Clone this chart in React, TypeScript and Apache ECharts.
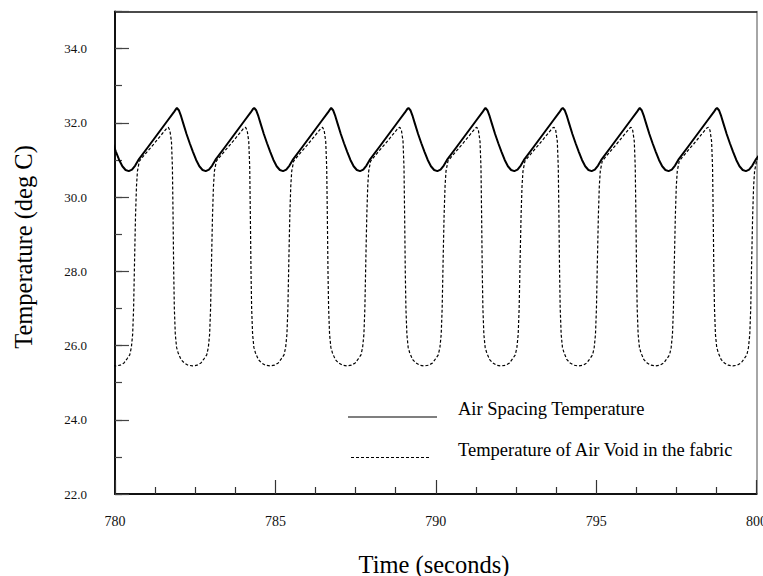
import React, { useEffect, useRef } from "react";
import * as echarts from "echarts";

// Times (s) of each peak of the air spacing temperature
const solidPeakTimes = [779.53, 781.93, 784.34, 786.74, 789.15, 791.55, 793.96, 796.36, 798.77];
// Shape of one cycle of the air spacing temperature (time after the peak, deg C)
const solidOffsets = [0, 0.06, 0.13, 0.2, 0.3, 0.4, 0.5, 0.6, 0.7, 0.8, 0.9, 1.0, 1.1, 1.2, 1.5, 1.8, 2.1, 2.3, 2.37];
const solidValues = [32.4, 32.34, 32.18, 31.98, 31.7, 31.45, 31.22, 31.0, 30.83, 30.73, 30.7, 30.74, 30.85, 31.0, 31.35, 31.7, 32.05, 32.28, 32.37];

// Times (s) of each peak of the air void temperature
const dashedPeakTimes = [779.26, 781.66, 784.07, 786.47, 788.88, 791.28, 793.69, 796.09, 798.5];
// Shape of one cycle of the air void temperature (time after the peak, deg C)
const dashedOffsets = [0, 0.05, 0.1, 0.13, 0.15, 0.17, 0.19, 0.22, 0.26, 0.31, 0.4, 0.5, 0.62, 0.76, 0.9, 1.02, 1.12, 1.2, 1.25, 1.29, 1.32, 1.35, 1.38, 1.41, 1.44, 1.5, 1.7, 1.95, 2.15, 2.3, 2.36];
const dashedValues = [31.88, 31.8, 31.5, 30.8, 29.5, 28.0, 27.0, 26.3, 25.95, 25.8, 25.62, 25.53, 25.47, 25.45, 25.47, 25.53, 25.65, 25.75, 25.95, 26.3, 27.0, 28.3, 29.5, 30.3, 30.7, 30.97, 31.18, 31.43, 31.64, 31.8, 31.86];

const seriesNames = ["Air Spacing Temperature", "Temperature of Air Void in the fabric"];
const xTitle = "Time (seconds)";
const yTitle = "Temperature (deg C)";

const xMin = 780, xMax = 800, xStep = 5;
const yMin = 22, yMax = 35, yStep = 2;

function buildSeries(peaks: number[], offsets: number[], values: number[]) {
  const out: number[][] = [];
  peaks.forEach((p) => {
    offsets.forEach((o, i) => {
      out.push([+(p + o).toFixed(3), values[i]]);
    });
  });
  return out;
}

const FONT = "Liberation Serif";

export default function App() {
  const ref = useRef<HTMLDivElement>(null);
  useEffect(() => {
    if (!ref.current) return;
    const chart = echarts.init(ref.current, undefined, { renderer: "svg" });
    const solid = buildSeries(solidPeakTimes, solidOffsets, solidValues);
    const dashed = buildSeries(dashedPeakTimes, dashedOffsets, dashedValues);
    chart.setOption({
      animation: false,
      backgroundColor: "#fff",
      textStyle: { fontFamily: FONT },
      grid: { left: 115, right: 6.5, top: 11.5, bottom: 82, containLabel: false, outerBoundsMode: "none" },
      xAxis: [
        {
          type: "value",
          min: xMin,
          max: xMax,
          interval: xStep,
          axisLine: { show: true, onZero: false, lineStyle: { color: "#111", width: 2 } },
          axisTick: { show: true, inside: true, length: 14, lineStyle: { color: "#333", width: 1.2 } },
          minorTick: { show: true, splitNumber: 4, length: 7, lineStyle: { color: "#333", width: 1.2 } },
          axisLabel: { fontFamily: FONT, fontSize: 14, color: "#111", margin: 20, hideOverlap: false },
          splitLine: { show: false },
        },
        {
          type: "value",
          position: "top",
          min: xMin,
          max: xMax,
          axisLine: { show: true, onZero: false, lineStyle: { color: "#111", width: 1.5 } },
          axisTick: { show: false },
          axisLabel: { show: false },
          splitLine: { show: false },
        },
      ],
      yAxis: [
        {
          type: "value",
          min: yMin,
          max: yMax,
          interval: yStep,
          position: "left",
          axisLine: { show: true, onZero: false, lineStyle: { color: "#111", width: 2 } },
          axisTick: { show: true, inside: true, length: 14, lineStyle: { color: "#444", width: 1.2 } },
          axisLabel: {
            fontFamily: FONT,
            fontSize: 13,
            color: "#111",
            margin: 28,
            formatter: (v: number) => (v > 34.5 ? "" : v.toFixed(1)),
          },
          splitLine: { show: false },
        },
        {
          type: "value",
          min: yMin,
          max: yMax,
          interval: 1,
          position: "left",
          offset: 0,
          axisLine: { show: false },
          axisTick: { show: true, inside: true, length: 7, lineStyle: { color: "#444", width: 1.2 } },
          axisLabel: { show: false },
          splitLine: { show: false },
        },
        {
          type: "value",
          min: yMin,
          max: yMax,
          position: "right",
          offset: 0,
          axisLine: { show: true, onZero: false, lineStyle: { color: "#888", width: 1.5 } },
          axisTick: { show: false },
          axisLabel: { show: false },
          splitLine: { show: false },
        },
      ],
      series: [
        {
          name: seriesNames[0],
          type: "line",
          xAxisIndex: 0,
          yAxisIndex: 0,
          data: solid,
          showSymbol: false,
          symbol: "none",
          clip: true,
          lineStyle: { color: "#000", width: 2 },
        },
        {
          name: seriesNames[1],
          type: "line",
          xAxisIndex: 0,
          yAxisIndex: 0,
          data: dashed,
          showSymbol: false,
          symbol: "none",
          clip: true,
          lineStyle: { color: "#000", width: 1.2, type: [3, 2] },
        },
      ],
      graphic: [
        {
          type: "text",
          x: 434,
          y: 564,
          style: { text: xTitle, fontFamily: FONT, fontSize: 24.5, fill: "#000", textAlign: "center", textVerticalAlign: "middle" },
        },
        {
          type: "text",
          x: 23,
          y: 247,
          rotation: Math.PI / 2,
          style: { text: yTitle, fontFamily: FONT, fontSize: 24.5, fill: "#000", textAlign: "center", textVerticalAlign: "middle" },
        },
        {
          type: "line",
          shape: { x1: 348, y1: 417, x2: 437, y2: 417 },
          style: { stroke: "#000", lineWidth: 1.2 },
        },
        {
          type: "text",
          x: 458,
          y: 409,
          style: { text: seriesNames[0], fontFamily: FONT, fontSize: 18.5, fill: "#000", textAlign: "left", textVerticalAlign: "middle" },
        },
        {
          type: "line",
          shape: { x1: 351, y1: 457.5, x2: 430, y2: 457.5 },
          style: { stroke: "#000", lineWidth: 1, lineDash: [3, 2] },
        },
        {
          type: "text",
          x: 458,
          y: 450,
          style: { text: seriesNames[1], fontFamily: FONT, fontSize: 18.5, fill: "#000", textAlign: "left", textVerticalAlign: "middle" },
        },
      ],
    });
    return () => chart.dispose();
  }, []);
  return <div ref={ref} style={{ position: "fixed", left: 0, top: 0, width: 763, height: 576 }} />;
}
